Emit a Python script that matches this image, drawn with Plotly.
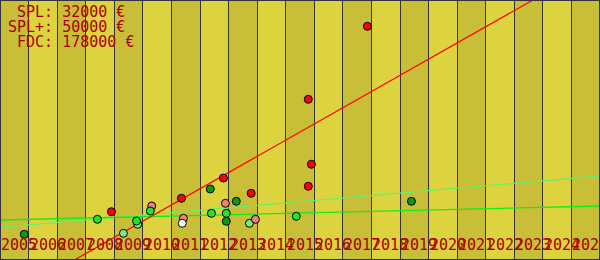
import plotly.graph_objects as go

# ---- data (years on x, price in € on y) ----
years = [2005, 2006, 2007, 2008, 2009, 2010, 2011, 2012, 2013, 2014, 2015,
         2016, 2017, 2018, 2019, 2020, 2021, 2022, 2023, 2024, 2025]
year_labels = [str(y) for y in years]

red_x = [2008.90, 2011.35, 2012.82, 2013.79, 2015.79, 2015.79, 2015.90, 2017.86]
red_y = [48300, 61700, 82000, 66700, 73700, 160700, 95700, 233700]

lightgreen_x = [2009.32, 2009.82, 2013.73]
lightgreen_y = [26700, 35700, 36700]

salmon_x = [2010.31, 2011.42, 2012.89, 2013.94]
salmon_y = [54000, 41700, 56700, 40700]

darkgreen_x = [2005.85, 2012.36, 2013.27, 2012.92, 2019.40]
darkgreen_y = [25700, 71000, 58700, 38700, 58700]

green_x = [2008.41, 2009.78, 2010.26, 2012.40, 2012.92, 2015.37]
green_y = [40700, 39000, 49000, 46700, 46700, 43700]

white_x = [2011.38]
white_y = [36700]

trend_x = [2005, 2026]
trend_red = [-42200, 298000]
trend_lightgreen = [32700, 84000]
trend_green = [40000, 54000]

info_lines = ["\u00a0SPL: 32000 €", "SPL+: 50000 €", "\u00a0FDC: 178000 €"]

# ---- styles ----
W, H = 600, 260
DARK_BAND = "#c9be37"
LIGHT_BAND = "#ddd33f"
GRID = "#33333d"
TEXT = "#a80000"
FONT = "DejaVu Sans Mono"

fig = go.Figure()

fig.add_trace(go.Scatter(x=trend_x, y=trend_lightgreen, mode="lines",
                         line=dict(color="#66f066", width=1.3), hoverinfo="skip"))
fig.add_trace(go.Scatter(x=trend_x, y=trend_green, mode="lines",
                         line=dict(color="#11ee11", width=1.3), hoverinfo="skip"))
fig.add_trace(go.Scatter(x=trend_x, y=trend_red, mode="lines",
                         line=dict(color="#ff0000", width=1.2), hoverinfo="skip"))

def pts(x, y, color):
    fig.add_trace(go.Scatter(x=x, y=y, mode="markers",
                             marker=dict(size=8, color=color,
                                         line=dict(color="#000000", width=1)),
                             hoverinfo="skip"))

pts(red_x, red_y, "#ff0000")
pts(lightgreen_x, lightgreen_y, "#7ae87a")
pts(salmon_x, salmon_y, "#f08080")
pts(darkgreen_x, darkgreen_y, "#109810")
pts(green_x, green_y, "#22e622")
pts(white_x, white_y, "#ffffff")

shapes = []
for i, yr in enumerate(years):
    if i % 2 == 0:
        shapes.append(dict(type="rect", xref="x", yref="paper", x0=yr, x1=yr + 1,
                           y0=0, y1=1, fillcolor=DARK_BAND, line=dict(width=0),
                           layer="below"))
shapes.append(dict(type="rect", xref="paper", yref="paper", x0=0, x1=1, y0=0, y1=1,
                   line=dict(color=GRID, width=2), fillcolor="rgba(0,0,0,0)",
                   layer="above"))

annotations = []
for yr, lab in zip(years, year_labels):
    annotations.append(dict(x=yr, y=(H - 245) / H, xref="x", yref="paper",
                            text=lab, showarrow=False, xanchor="left",
                            yanchor="middle", xshift=-1,
                            font=dict(family=FONT, size=15, color=TEXT)))
for k, line in enumerate(info_lines):
    annotations.append(dict(x=6 / W, y=(H - (12 + 15 * k)) / H, xref="paper",
                            yref="paper", text=line, showarrow=False,
                            xanchor="left", yanchor="middle",
                            font=dict(family=FONT, size=15, color=TEXT)))

fig.update_layout(
    width=W, height=H,
    margin=dict(l=0, r=0, t=0, b=0),
    paper_bgcolor=LIGHT_BAND, plot_bgcolor=LIGHT_BAND,
    showlegend=False, hovermode=False,
    shapes=shapes, annotations=annotations,
    xaxis=dict(range=[2005, 2026], showgrid=True, tick0=2005, dtick=1,
               gridcolor=GRID, gridwidth=1, showticklabels=False,
               zeroline=False, fixedrange=True),
    yaxis=dict(range=[0, 260000], showgrid=False, showticklabels=False,
               zeroline=False, fixedrange=True),
)

fig.write_html("out.html", config={"displayModeBar": False})
